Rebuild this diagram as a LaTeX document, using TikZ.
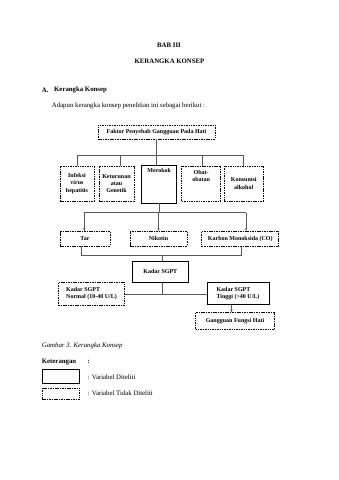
\documentclass[tikz,border=0pt]{standalone}
\usepackage{fontspec}
\setmainfont{Liberation Serif}
\usetikzlibrary{arrows.meta,calc}
\begin{document}
\begin{tikzpicture}[x=1pt,y=-1pt,
  body/.style={font=\fontsize{6.8}{8}\selectfont, inner sep=0pt},
  dbox/.style={draw=black, line width=0.7pt, dash pattern=on 1.5pt off 0.9pt, inner sep=1pt, align=center,
     font=\fontsize{6}{7.2}\selectfont\bfseries},
  sbox/.style={draw=black, line width=0.95pt, inner sep=1pt, align=center,
     font=\fontsize{6}{7.2}\selectfont\bfseries},
  conn/.style={draw=black!65, line width=0.6pt},
  arr/.style={conn, -{Stealth[length=2.6pt,width=2.4pt]}},
]
\useasboundingbox[fill=white] (0,0) rectangle (339,480);

% header texts
\node[body, font=\fontsize{6.8}{8}\selectfont\bfseries] (bab) at (169,45) {BAB III};
\node[body, font=\fontsize{6.8}{8}\selectfont\bfseries] (judul) at (169.5,61.7) {KERANGKA KONSEP};
\node[body, font=\fontsize{6.8}{8}\selectfont\bfseries, anchor=west] (secA) at (41.7,90) {A.};
\node[body, font=\fontsize{6.8}{8}\selectfont\bfseries, anchor=west] (secAt) at (54,90) {Kerangka Konsep};
\node[body, anchor=west] (intro) at (51.7,106) {Adapun kerangka konsep penelitian ini sebagai berikut :};

% diagram boxes
\node[dbox, minimum width=117, minimum height=14] (top) at (156.5,132) {Faktor Penyebab Gangguan Pada Hati};

\node[dbox, minimum width=34, minimum height=35] (infeksi) at (77,183.5) {Infeksi\\virus\\hepatitis};
\node[dbox, minimum width=35, minimum height=35] (keturunan) at (116.5,183.5) {Keturunan\\atau\\Genetik};
\node[sbox, minimum width=35, minimum height=38] (merokok) at (159.2,184) {};
\node[font=\fontsize{6}{7.2}\selectfont\bfseries, inner sep=0pt, anchor=north] (merokokT) at ($(merokok.north)+(0,4)$) {Merokok};
\node[dbox, minimum width=39, minimum height=35] (obat) at (201.2,183.4) {};
\node[font=\fontsize{6}{7.2}\selectfont\bfseries, inner sep=0pt, anchor=north, align=center] (obatT) at ($(obat.north)+(0,4.5)$) {Obat-\\obatan};
\node[dbox, minimum width=39, minimum height=35] (konsumsi) at (243.7,183.4) {Konsumsi\\alkohol};

\node[dbox, minimum width=50, minimum height=14.5] (tar) at (85,238.6) {Tar};
\node[dbox, minimum width=57, minimum height=14.5] (nikotin) at (158.5,238.6) {Nikotin};
\node[dbox, minimum width=77, minimum height=15.5] (karbon) at (240.3,238.8) {Karbon Monoksida (CO)};

\node[sbox, minimum width=56, minimum height=21.5] (kadar) at (160.3,271.8) {Kadar SGPT};

\node[dbox, minimum width=66.5, minimum height=22.5, align=left] (normal) at (91.5,293.7) {Kadar SGPT\\Normal (10-40 U/L)};
\node[sbox, minimum width=62, minimum height=22.5, align=left] (tinggi) at (238,293.7) {Kadar SGPT\\Tinggi (>40 U/L)};
\node[dbox, minimum width=79, minimum height=17] (gangguan) at (235,321) {Gangguan Fungsi Hati};

% bus coordinates
\coordinate (bus1) at (0,155.7);
\coordinate (bus2) at (0,212.7);
\coordinate (bus3) at (0,255.3);
\coordinate (bus4) at (0,294.3);

% connectors: top -> five factors
\draw[conn] (top.south) -- (top.south |- merokok.north);
\draw[conn] (infeksi.north) -- (infeksi.north |- bus1) -- (konsumsi.north |- bus1) -- (konsumsi.north);
\draw[conn] ($(keturunan.north)+(4,0)$) -- ($(keturunan.north |- bus1)+(4,0)$);
\draw[conn] ($(obat.north)+(1.5,0)$) -- ($(obat.north |- bus1)+(1.5,0)$);

% merokok -> tar, nikotin, karbon
\coordinate (tarIn) at ($(tar.north)+(-0.7,0)$);
\coordinate (karIn) at ($(karbon.north)+(5.7,0)$);
\draw[conn] (merokok.south) -- (merokok.south |- bus2);
\draw[conn] (tarIn |- bus2) -- (karIn |- bus2);
\draw[arr] (tarIn |- bus2) -- (tarIn);
\draw[arr] (nikotin.north |- bus2) -- (nikotin.north);
\draw[arr] (karIn |- bus2) -- (karIn);

% tar, karbon -> kadar
\coordinate (tarOut) at ($(tar.south)+(-3.3,0)$);
\coordinate (karOut) at ($(karbon.south)+(1.4,0)$);
\coordinate (kadIn) at ($(kadar.north)+(2.4,0)$);
\coordinate (kadOut) at ($(kadar.south)+(2.4,0)$);
\draw[conn] (tarOut) -- (tarOut |- bus3) -- (karOut |- bus3) -- (karOut);
\draw[conn] (kadIn |- bus3) -- (kadIn);

% kadar -> normal, tinggi
\draw[conn] (kadOut) -- (kadOut |- bus4);
\draw[conn] (normal.east |- bus4) -- (tinggi.west |- bus4);

% tinggi -> gangguan
\coordinate (tinOut) at ($(tinggi.south)+(-6.5,0)$);
\draw[arr] (tinOut) -- (tinOut |- gangguan.north);

% caption and legend
\node[body, font=\fontsize{6.8}{8}\selectfont\itshape, anchor=west] (cap) at (41.7,346) {Gambar 3. Kerangka Konsep};
\node[body, font=\fontsize{6.8}{8}\selectfont\bfseries, anchor=west] (ket) at (41.7,362.3) {Keterangan};
\node[body, font=\fontsize{6.8}{8}\selectfont\bfseries, anchor=west] (ketc) at (87.5,362.3) {:};
\node[sbox, minimum width=37.5, minimum height=14, anchor=north west] (legS) at (41.7,369.3) {};
\node[dbox, minimum width=37.5, minimum height=11.5, anchor=north west] (legD) at (41.7,387.5) {};
\node[body, anchor=west] (legSt) at (87.5,377.5) {: Variabel Diteliti};
\node[body, anchor=west] (legDt) at (87.5,393.5) {: Variabel Tidak Diteliti};
\end{tikzpicture}
\end{document}
